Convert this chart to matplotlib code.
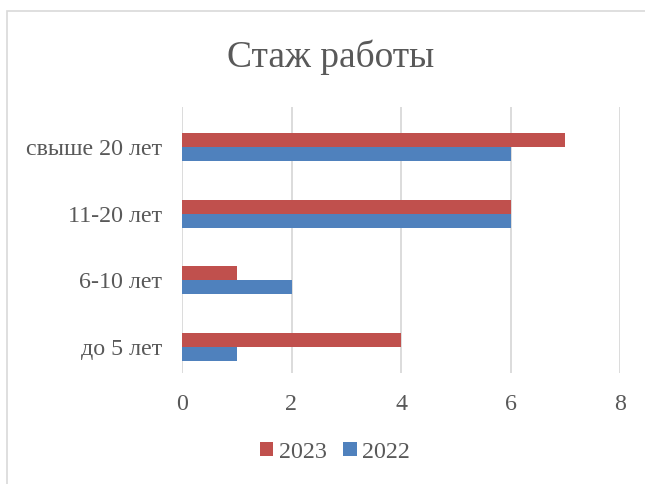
import numpy as np
import matplotlib
matplotlib.use("Agg")
import matplotlib.pyplot as plt
from matplotlib.patches import Rectangle

categories = ["до 5 лет", "6-10 лет", "11-20 лет", "свыше 20 лет"]
values_2022 = [1, 2, 6, 6]
values_2023 = [4, 1, 6, 7]
xticks = [0, 2, 4, 6, 8]

red = "#C0504D"
blue = "#4F81BD"
txt = "#595959"
grid = "#D9D9D9"

plt.rcParams["font.family"] = ["Liberation Serif", "DejaVu Serif"]

fig = plt.figure(figsize=(6.45, 4.84), dpi=100)
ax = fig.add_axes([182 / 645, 1 - 373 / 484, 438 / 645, 266 / 484])

y = np.arange(len(categories))
h = 0.21
ax.barh(y + h / 2, values_2023, height=h, color=red, label="2023", zorder=3)
ax.barh(y - h / 2, values_2022, height=h, color=blue, label="2022", zorder=3)

ax.set_xlim(0, 8)
ax.set_ylim(-0.39, 3.6)
ax.set_xticks(xticks)
ax.set_yticks(y)
ax.set_yticklabels(categories)
ax.tick_params(axis="both", length=0, labelsize=17.3, labelcolor=txt)
ax.tick_params(axis="y", pad=14.4)
ax.tick_params(axis="x", pad=15)
ax.grid(axis="x", color=grid, linewidth=1.3, zorder=0)
for s in ax.spines.values():
    s.set_visible(False)

fig.text(331 / 645, 1 - 67 / 484, "Стаж работы", ha="center", va="baseline",
         fontsize=27, color=txt)

handles, labels = ax.get_legend_handles_labels()
fig.legend(handles, labels, loc="center", bbox_to_anchor=(335 / 645, 1 - 452 / 484),
           ncol=2, frameon=False, fontsize=17.3, labelcolor=txt,
           handlelength=0.55, handleheight=0.55, handletextpad=0.22, columnspacing=0.7)

# chart area border (cropped at right and bottom)
fig.patches.append(Rectangle((7 / 645, -0.1), 1.2, 1 - 11 / 484 + 0.1,
                             transform=fig.transFigure, fill=False,
                             edgecolor=grid, linewidth=1.2))

fig.savefig("out.png", dpi=100)
